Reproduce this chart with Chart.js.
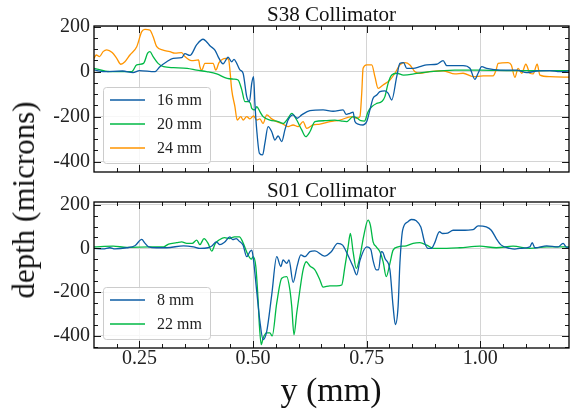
<!DOCTYPE html>
<html>
<head>
<meta charset="utf-8">
<script src="https://cdn.jsdelivr.net/npm/chart.js@4"></script>
<style>
  body { margin: 0; background: #fff; }
  #wrap { position: relative; width: 570px; height: 410px; font-family: "Liberation Serif", serif; color: #111; }
  #topChart { position: absolute; left: 0; top: 0; }
  #botChart { position: absolute; left: 0; top: 180px; }
  .ytitle { position: absolute; left: 24px; top: 200px; transform: translate(-50%, -50%) rotate(-90deg); font-size: 31px; white-space: nowrap; }
  .xtitle { position: absolute; left: 331px; top: 390px; transform: translate(-50%, -50%); font-size: 34px; white-space: nowrap; }
</style>
</head>
<body>
<div id="wrap">
  <canvas id="topChart" width="570" height="180"></canvas>
  <canvas id="botChart" width="570" height="230"></canvas>
  <div class="ytitle">depth (microns)</div>
  <div class="xtitle">y (mm)</div>
</div>
<script>
// tick values
const xTicks = [0.25, 0.50, 0.75, 1.00];
const yTicks = [-400, -200, 0, 200];

// S38 collimator, [y (mm), depth (microns)]
const s38Labels = ['16 mm', '20 mm', '24 mm'];
const s38_16mm = [[0.15,8],[0.17,0],[0.213,3],[0.236,-4],[0.25,5],[0.284,0],[0.295,22],[0.31,44],[0.324,59],[0.343,62],[0.35,80],[0.361,72],[0.376,120],[0.39,144],[0.398,132],[0.405,115],[0.416,96],[0.423,67],[0.434,35],[0.445,64],[0.453,44],[0.458,55],[0.464,37],[0.471,8],[0.478,-7],[0.486,-111],[0.492,-133],[0.497,-52],[0.501,-22],[0.504,-141],[0.508,-259],[0.514,-363],[0.521,-370],[0.526,-318],[0.533,-244],[0.541,-267],[0.548,-304],[0.555,-286],[0.563,-311],[0.57,-259],[0.577,-215],[0.588,-192],[0.597,-207],[0.607,-192],[0.625,-173],[0.654,-170],[0.676,-176],[0.698,-170],[0.705,-190],[0.713,-185],[0.72,-180],[0.724,-222],[0.731,-233],[0.742,-237],[0.75,-222],[0.757,-170],[0.764,-118],[0.772,-104],[0.779,-89],[0.79,-85],[0.797,-95],[0.805,-126],[0.816,-22],[0.823,37],[0.831,40],[0.838,15],[0.852,15],[0.867,22],[0.882,30],[0.904,33],[0.918,49],[0.926,27],[0.944,27],[0.962,27],[0.977,15],[0.988,-34],[0.995,-7],[1.003,22],[1.014,15],[1.043,7],[1.08,7],[1.102,-4],[1.124,3],[1.153,5],[1.175,0],[1.2,4]];
const s38_20mm = [[0.15,15],[0.185,0],[0.233,0],[0.244,30],[0.259,37],[0.268,82],[0.273,89],[0.28,67],[0.291,37],[0.303,22],[0.325,18],[0.355,15],[0.376,7],[0.398,0],[0.42,-10],[0.443,-30],[0.457,-33],[0.467,-37],[0.475,-80],[0.482,-133],[0.489,-133],[0.494,-140],[0.497,-163],[0.504,-170],[0.508,-155],[0.515,-178],[0.522,-200],[0.537,-215],[0.555,-222],[0.566,-230],[0.577,-207],[0.585,-185],[0.596,-215],[0.607,-259],[0.616,-289],[0.625,-267],[0.636,-222],[0.658,-218],[0.68,-215],[0.695,-220],[0.706,-222],[0.72,-200],[0.728,-205],[0.737,-218],[0.745,-220],[0.753,-178],[0.761,-156],[0.772,-141],[0.783,-133],[0.79,-111],[0.797,-52],[0.805,-15],[0.816,-7],[0.831,-15],[0.86,-8],[0.889,0],[0.944,7],[1.0,7],[1.072,5],[1.138,5],[1.2,5]];
const s38_24mm = [[0.15,59],[0.155,74],[0.162,67],[0.17,89],[0.178,97],[0.19,85],[0.2,59],[0.209,33],[0.218,44],[0.229,74],[0.244,111],[0.255,178],[0.262,188],[0.273,185],[0.28,156],[0.288,111],[0.302,96],[0.317,89],[0.328,82],[0.343,85],[0.35,67],[0.365,49],[0.38,52],[0.383,22],[0.387,7],[0.394,37],[0.412,37],[0.418,7],[0.425,40],[0.44,59],[0.446,55],[0.449,8],[0.453,-81],[0.46,-155],[0.465,-215],[0.473,-200],[0.478,-215],[0.486,-200],[0.493,-210],[0.501,-197],[0.508,-215],[0.515,-210],[0.522,-230],[0.53,-192],[0.541,-210],[0.552,-222],[0.563,-230],[0.577,-244],[0.588,-237],[0.599,-244],[0.61,-222],[0.618,-252],[0.632,-237],[0.647,-233],[0.669,-222],[0.691,-215],[0.717,-200],[0.728,-207],[0.735,-200],[0.739,-96],[0.742,15],[0.75,30],[0.761,30],[0.768,-22],[0.775,-74],[0.786,-59],[0.801,-37],[0.812,-7],[0.823,30],[0.834,40],[0.845,30],[0.856,0],[0.867,-7],[0.889,0],[0.918,4],[0.944,-10],[0.962,-7],[0.984,-22],[1.006,-19],[1.028,-19],[1.035,10],[1.039,37],[1.061,40],[1.068,30],[1.076,-25],[1.083,15],[1.091,-7],[1.1,33],[1.109,-7],[1.116,-10],[1.125,33],[1.131,-15],[1.153,-22],[1.2,-25]];

// S01 collimator
const s01Labels = ['8 mm', '22 mm'];
const s01_8mm = [[0.15,0],[0.17,-2],[0.185,3],[0.196,-2],[0.222,3],[0.24,12],[0.255,41],[0.262,24],[0.27,7],[0.288,3],[0.31,3],[0.347,12],[0.369,7],[0.383,0],[0.401,3],[0.41,12],[0.419,30],[0.427,17],[0.437,28],[0.449,53],[0.455,40],[0.463,45],[0.47,32],[0.478,15],[0.486,-38],[0.493,-15],[0.497,-8],[0.5,-38],[0.508,-197],[0.515,-333],[0.522,-417],[0.53,-379],[0.541,-212],[0.552,-38],[0.561,-83],[0.566,-53],[0.574,-68],[0.579,-53],[0.588,-155],[0.597,-80],[0.605,-30],[0.614,-38],[0.625,-15],[0.636,-11],[0.657,-35],[0.672,-15],[0.686,23],[0.697,15],[0.705,-15],[0.72,-83],[0.728,-121],[0.735,-56],[0.75,7],[0.759,-5],[0.764,-56],[0.771,-98],[0.776,-98],[0.782,-15],[0.786,-20],[0.79,-45],[0.801,-98],[0.808,-265],[0.813,-348],[0.819,-265],[0.823,-68],[0.829,83],[0.84,121],[0.848,132],[0.859,126],[0.869,98],[0.878,23],[0.885,0],[0.892,0],[0.899,23],[0.91,76],[0.917,68],[0.928,70],[0.94,83],[0.958,83],[0.984,86],[0.995,103],[1.013,98],[1.024,83],[1.035,45],[1.046,15],[1.065,0],[1.076,-3],[1.087,0],[1.109,7],[1.114,26],[1.12,3],[1.146,12],[1.171,7],[1.182,23],[1.19,5],[1.2,7]];
const s01_22mm = [[0.15,7],[0.192,10],[0.222,5],[0.273,7],[0.303,7],[0.314,20],[0.332,26],[0.343,30],[0.354,23],[0.366,23],[0.376,38],[0.383,17],[0.392,45],[0.401,23],[0.409,-12],[0.417,23],[0.427,41],[0.437,49],[0.448,45],[0.459,53],[0.47,53],[0.477,30],[0.489,-30],[0.496,-49],[0.5,-38],[0.506,-83],[0.511,-235],[0.514,-356],[0.518,-440],[0.522,-410],[0.53,-386],[0.537,-386],[0.542,-400],[0.552,-250],[0.563,-136],[0.574,-129],[0.581,-190],[0.585,-265],[0.59,-394],[0.596,-295],[0.603,-190],[0.61,-98],[0.617,-61],[0.625,-80],[0.636,-98],[0.647,-144],[0.654,-177],[0.669,-171],[0.684,-171],[0.695,-167],[0.702,-83],[0.709,7],[0.714,68],[0.72,-15],[0.727,-91],[0.735,-38],[0.743,53],[0.753,129],[0.758,106],[0.764,30],[0.771,7],[0.779,-15],[0.786,-60],[0.793,-129],[0.801,-68],[0.808,-8],[0.819,7],[0.837,12],[0.852,23],[0.867,26],[0.882,15],[0.897,0],[0.926,0],[0.955,3],[0.999,10],[1.035,3],[1.072,10],[1.109,0],[1.146,7],[1.182,7],[1.2,7]];

const blue = '#0C5DA5', green = '#00B945', orange = '#FF9500';
const gridColor = '#d4d4d4';
const serif = '"Liberation Serif", serif';

// inward ticks, frame, panel title and legend box, drawn over the lines
function framePlugin(title) {
    return {
        id: 'frame',
        afterDatasetsDraw(chart) {
            const { ctx, chartArea: a, scales: { x, y } } = chart;
            ctx.save();
            ctx.strokeStyle = '#000';
            ctx.lineWidth = 0.9;
            ctx.beginPath();
            for (let k = Math.ceil(x.min / 0.05 + 1e-6); k * 0.05 < x.max - 1e-6; k++) {
                const px = Math.round(x.getPixelForValue(k * 0.05)) + 0.5;
                const len = k % 5 === 0 ? 7 : 4;
                ctx.moveTo(px, a.bottom); ctx.lineTo(px, a.bottom - len);
                ctx.moveTo(px, a.top); ctx.lineTo(px, a.top + len);
            }
            for (let k = Math.ceil(y.min / 50); k * 50 <= y.max; k++) {
                const py = Math.round(y.getPixelForValue(k * 50)) + 0.5;
                const len = k % 4 === 0 ? 7 : 4;
                ctx.moveTo(a.left, py); ctx.lineTo(a.left + len, py);
                ctx.moveTo(a.right, py); ctx.lineTo(a.right - len, py);
            }
            ctx.stroke();

            ctx.lineWidth = 1.3;
            ctx.strokeRect(a.left, a.top, a.right - a.left, a.bottom - a.top);

            ctx.fillStyle = '#111';
            ctx.font = '21px ' + serif;
            ctx.textAlign = 'center';
            ctx.textBaseline = 'alphabetic';
            ctx.fillText(title, (a.left + a.right) / 2, a.top - 5);

            // legend
            const sets = chart.data.datasets;
            const bw = 107, bh = sets.length * 24 + 4;
            const bx = a.left + 9, by = a.bottom - 9 - bh;
            ctx.beginPath();
            ctx.roundRect(bx + 0.5, by + 0.5, bw, bh, 3);
            ctx.fillStyle = 'rgba(255,255,255,0.8)';
            ctx.fill();
            ctx.strokeStyle = '#cccccc';
            ctx.lineWidth = 1;
            ctx.stroke();
            ctx.font = '16px ' + serif;
            ctx.textAlign = 'left';
            ctx.textBaseline = 'middle';
            sets.forEach((ds, i) => {
                const cy = by + 13 + i * 24;
                ctx.strokeStyle = ds.borderColor;
                ctx.lineWidth = 1.4;
                ctx.beginPath();
                ctx.moveTo(bx + 7, cy); ctx.lineTo(bx + 42, cy);
                ctx.stroke();
                ctx.fillStyle = '#222';
                ctx.fillText(ds.label, bx + 54, cy + 1);
            });
            ctx.restore();
        }
    };
}

function panel(id, title, series, labels, colors, yRange, bottomAxis) {
    const tickFont = { family: serif, size: 20 };
    return new Chart(document.getElementById(id), {
        type: 'line',
        data: {
            datasets: series.map((pts, i) => ({
                label: labels[i],
                data: pts.map(p => ({ x: p[0], y: p[1] })),
                borderColor: colors[i],
                borderWidth: 1.3,
                pointRadius: 0,
                fill: false,
                cubicInterpolationMode: 'monotone'
            }))
        },
        options: {
            responsive: false,
            animation: false,
            events: [],
            layout: { padding: { top: bottomAxis ? 22 : 26, right: 1, left: 0, bottom: 0 } },
            plugins: { legend: { display: false }, tooltip: { enabled: false } },
            scales: {
                x: {
                    type: 'linear', min: 0.15, max: 1.195,
                    afterBuildTicks: s => { s.ticks = xTicks.map(v => ({ value: v })); },
                    afterFit: s => {
                        s.height = bottomAxis ? 62 : 8;
                        s.paddingLeft = s.paddingRight = 0;
                    },
                    grid: { color: gridColor, drawTicks: false },
                    border: { display: false },
                    ticks: { display: bottomAxis, maxRotation: 0, padding: -1, color: '#222', font: tickFont,
                             callback: v => v.toFixed(2) }
                },
                y: {
                    min: yRange[0], max: yRange[1],
                    afterBuildTicks: s => { s.ticks = yTicks.map(v => ({ value: v })); },
                    afterFit: s => {
                        s.width = 94;
                        s.paddingTop = s.paddingBottom = 0;
                    },
                    grid: { color: gridColor, drawTicks: false },
                    border: { display: false },
                    ticks: { padding: 4, color: '#222', font: tickFont, callback: v => String(v) }
                }
            }
        },
        plugins: [framePlugin(title)]
    });
}

panel('topChart', 'S38 Collimator', [s38_16mm, s38_20mm, s38_24mm], s38Labels, [blue, green, orange], [-446, 203], false);
panel('botChart', 'S01 Collimator', [s01_8mm, s01_22mm], s01Labels, [blue, green], [-455, 212], true);
</script>
</body>
</html>
